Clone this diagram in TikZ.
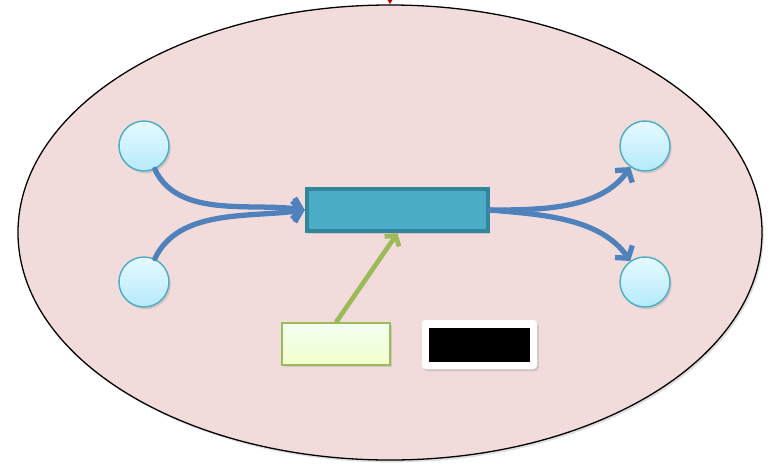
\documentclass[tikz,border=0pt]{standalone}
\usepackage{tikz}
\usetikzlibrary{positioning, shapes.geometric, arrows.meta, shadows}
\definecolor{sysfill}{HTML}{F2DCDB}
\definecolor{flowblue}{HTML}{4F81BD}
\definecolor{procfill}{HTML}{4BACC6}
\definecolor{procdraw}{HTML}{31859C}
\definecolor{ctrlgreen}{HTML}{9BBB59}
\definecolor{pooltop}{HTML}{E6FAFF}
\definecolor{poolbot}{HTML}{B5EAFA}

\begin{document}
\begin{tikzpicture}[x=0.03cm, y=0.03cm,
  softshadow/.style={drop shadow={opacity=0.25, shadow xshift=1.5pt, shadow yshift=-2pt}},
  sysbox/.style={ellipse, draw=black, line width=1.1pt, fill=sysfill, inner sep=0pt,
                 minimum width=22.32cm, minimum height=13.65cm, softshadow},
  pool/.style={circle, draw=procfill, line width=1.2pt, minimum size=1.5cm, inner sep=0pt,
               top color=pooltop, bottom color=poolbot, softshadow},
  proc/.style={rectangle, draw=procdraw, line width=3.2pt, fill=procfill,
               minimum width=5.45cm, minimum height=1.28cm, inner sep=0pt, softshadow},
  ctrl/.style={rectangle, draw=ctrlgreen, line width=1.1pt, top color=green!5!white,
               bottom color=lime!20!white, minimum width=3.24cm, minimum height=1.26cm,
               inner sep=0pt, softshadow},
  frame/.style={rectangle, rounded corners=3pt, fill=white, minimum width=3.45cm,
                minimum height=1.47cm, inner sep=0pt, softshadow},
  flow/.style={draw=flowblue, line width=4.5pt, line cap=round,
               -{Straight Barb[length=7pt, width=18pt, line width=4.5pt]}},
  ctrlarrow/.style={draw=ctrlgreen, line width=4pt,
               -{Straight Barb[length=6pt, width=15pt, line width=4pt]}}]

\useasboundingbox (0,0) rectangle (771,-463);

% system boundary
\node[sysbox] (sys) at (390,-232.5) {};
\coordinate (topin) at (390,0);
\draw[red!75!black, line width=1pt, -{Latex[length=4pt, width=5pt]}] (topin) -- (sys.north);

% pools and the process
\node[pool] (in1) at (144,-146) {};
\node[pool] (in2) at (144,-282) {};
\node[pool] (out1) at (645,-146) {};
\node[pool] (out2) at (645,-282) {};
\node[proc] (proc) at (397.5,-210) {};

% control and the black label box
\node[ctrl] (ctrl) at (336,-344) {};
\node[frame] (frame) at (479.5,-344.5) {};
\node[fill=black, minimum width=3.03cm, minimum height=1.02cm, inner sep=0pt] (blk) at (frame) {};

% flows
\draw[flow] (in1) to[out=-65, in=172, looseness=0.9] (proc.west);
\draw[flow] (in2) to[out=65, in=188, looseness=0.9] (proc.west);
\draw[flow] (proc.east) to[out=0, in=-125, looseness=0.9] (out1);
\draw[flow] (proc.east) to[out=-5, in=125, looseness=0.9] (out2);
\draw[ctrlarrow] (ctrl.north) -- (proc.south);
\end{tikzpicture}
\end{document}
